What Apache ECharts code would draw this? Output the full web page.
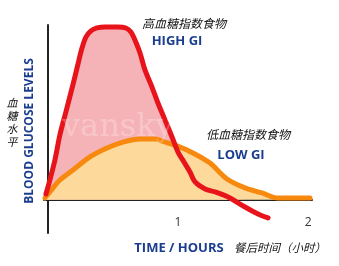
<!DOCTYPE html>
<html>
<head>
<meta charset="utf-8">
<script src="https://cdn.jsdelivr.net/npm/echarts@6/dist/echarts.min.js"></script>
<style>
html,body{margin:0;padding:0;background:#fff;}
#chart{width:339px;height:266px;}
</style>
</head>
<body>
<div id="chart"></div>
<script>
// Time in hours, relative blood glucose level (0 = baseline)
var highGI = [
  [-0.015, 3.3], [0.015, 11.3], [0.054, 22.8], [0.092, 37.1], [0.138, 50.2],
  [0.192, 65.7], [0.231, 77.6], [0.262, 86.8], [0.292, 93.1], [0.331, 96.6],
  [0.377, 98.3], [0.438, 98.9], [0.538, 98.9], [0.6, 98.3], [0.638, 96],
  [0.669, 91.4], [0.708, 84], [0.746, 74.3], [0.8, 64.5], [0.846, 55.4],
  [0.9, 45.7], [0.954, 35.9], [1.0, 27.3], [1.046, 21.6],
  [1.092, 15.9], [1.131, 10.2], [1.208, 6.2], [1.285, 4.5], [1.385, 1.6],
  [1.515, -4.1], [1.615, -8.1], [1.692, -10.4]
];
var lowGI = [
  [-0.023, 1], [0.015, 4.5], [0.092, 11.3], [0.192, 17], [0.323, 24.5],
  [0.454, 29.6], [0.577, 33], [0.708, 34.8], [0.823, 34.8], [0.862, 34],
  [0.992, 30.8], [1.115, 26.8], [1.246, 21], [1.377, 11.9], [1.515, 6.8],
  [1.646, 3.9], [1.769, 1], [2.015, 1]
];
var xTickLabels = [1, 2];

var highGIArea = highGI.map(function (p) { return [p[0], Math.max(p[1], 0)]; });

var BLUE = '#1a3d8f';
var chart = echarts.init(document.getElementById('chart'), null, {renderer: 'canvas'});
chart.setOption({
  animation: false,
  backgroundColor: '#ffffff',
  grid: {left: 44, top: 25, right: 27, bottom: 33},
  xAxis: {
    type: 'value', min: -0.03, max: 2.03,
    axisLine: {show: true, lineStyle: {color: '#222', width: 2}},
    axisTick: {show: false},
    splitLine: {show: false},
    axisLabel: {inside: true, customValues: xTickLabels, color: '#333', fontSize: 12,
                fontFamily: 'Open Sans', margin: 4}
  },
  yAxis: {
    type: 'value', min: -19, max: 100,
    axisLine: {show: true, lineStyle: {color: '#222', width: 2}},
    axisTick: {show: false},
    splitLine: {show: false},
    axisLabel: {show: false}
  },
  series: [
    {type: 'line', data: highGIArea, smooth: 0.3, showSymbol: false,
     lineStyle: {width: 0, opacity: 0}, areaStyle: {color: '#f6b3b7', opacity: 1}, z: 1},
    {type: 'line', data: lowGI, smooth: 0.3, showSymbol: false,
     lineStyle: {color: '#f7890f', width: 5, cap: 'round'},
     areaStyle: {color: '#fdda9b', opacity: 1}, z: 2},
    {type: 'line', data: highGI, smooth: 0.3, showSymbol: false,
     lineStyle: {color: '#e8141c', width: 5, cap: 'round', join: 'round'}, z: 3}
  ],
  graphic: [
    {type: 'text', left: 62, top: 112, z: 10,
     style: {text: 'vansky', fill: 'rgba(255,255,255,0.25)', font: '32px "DejaVu Serif"'}},
    {type: 'text', x: 184, y: 23, z: 10,
     style: {text: '高血糖指数食物', fill: '#111', font: 'italic 12px "Noto Sans CJK SC"',
             align: 'center', verticalAlign: 'middle'}},
    {type: 'text', x: 177, y: 41, z: 10,
     style: {text: 'HIGH GI', fill: BLUE, font: 'bold 13px "Open Sans"',
             align: 'center', verticalAlign: 'middle'}},
    {type: 'text', x: 248, y: 134, z: 10,
     style: {text: '低血糖指数食物', fill: '#111', font: 'italic 12px "Noto Sans CJK SC"',
             align: 'center', verticalAlign: 'middle'}},
    {type: 'text', x: 241, y: 155, z: 10,
     style: {text: 'LOW GI', fill: BLUE, font: 'bold 13px "Open Sans"',
             align: 'center', verticalAlign: 'middle'}},
    {type: 'text', x: 30, y: 131, rotation: Math.PI / 2, z: 10,
     style: {text: 'BLOOD GLUCOSE LEVELS', fill: BLUE, font: 'bold 12px "Open Sans"',
             align: 'center', verticalAlign: 'middle'}},
    {type: 'text', x: 12, y: 122, z: 10,
     style: {text: '血\n糖\n水\n平', fill: '#111', font: 'italic 11px "Noto Sans CJK SC"',
             lineHeight: 13, align: 'center', verticalAlign: 'middle'}},
    {type: 'text', x: 179, y: 248, z: 10,
     style: {text: 'TIME / HOURS', fill: BLUE, font: 'bold 13px "Open Sans"',
             align: 'center', verticalAlign: 'middle'}},
    {type: 'text', x: 280, y: 248, z: 10,
     style: {text: '餐后时间（小时）', fill: '#111', font: 'italic 11.5px "Noto Sans CJK SC"',
             align: 'center', verticalAlign: 'middle'}}
  ]
});
</script>
</body>
</html>
